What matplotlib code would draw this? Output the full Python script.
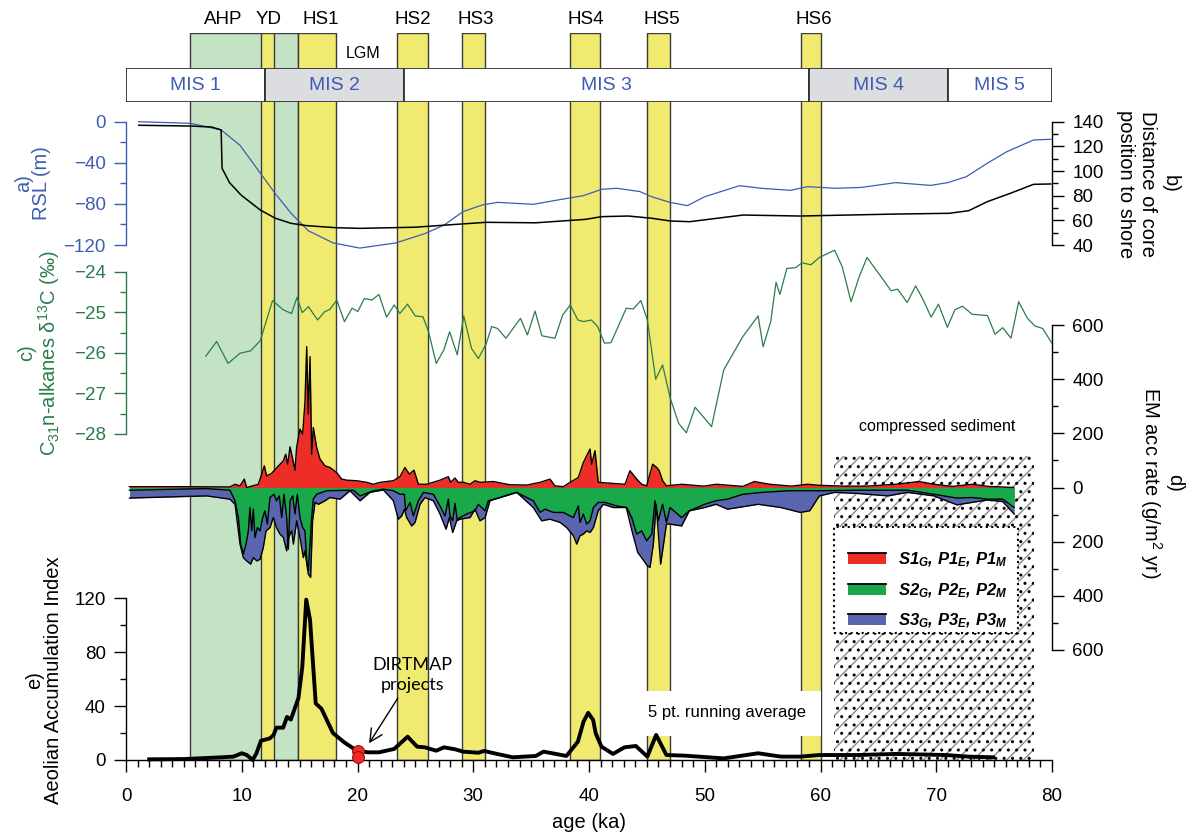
import numpy as np
import matplotlib
matplotlib.use('Agg')
import matplotlib.pyplot as plt
from matplotlib.ticker import MultipleLocator, FuncFormatter
from matplotlib.patches import Patch, Rectangle
from matplotlib.lines import Line2D
from matplotlib.legend_handler import HandlerBase

plt.rcParams['font.family'] = ['Liberation Sans', 'DejaVu Sans']
plt.rcParams['mathtext.fontset'] = 'custom'
plt.rcParams['mathtext.rm'] = 'Liberation Sans'
plt.rcParams['mathtext.it'] = 'Liberation Sans:italic:bold'
plt.rcParams['mathtext.bf'] = 'Liberation Sans:bold'
plt.rcParams['hatch.linewidth'] = 1.0

# ---- events and marine isotope stages (ka) ----
event_names = ['AHP', 'YD', 'HS1', 'HS2', 'HS3', 'HS4', 'HS5', 'HS6']
event_start = [5.55, 11.63, 14.83, 23.4, 29.02, 38.4, 45.04, 58.34]
event_end = [14.83, 12.82, 18.11, 26.05, 31.04, 40.98, 47.0, 60.03]
event_label_x = [8.4, 12.35, 16.8, 24.8, 30.2, 39.7, 46.3, 59.4]

mis_names = ['MIS 1', 'MIS 2', 'MIS 3', 'MIS 4', 'MIS 5']
mis_bounds = [0, 12.0, 24.0, 59.0, 71.0, 80.0]

# ---- a) relative sea level (m) ----
rsl_age = [1.1, 5.55, 8.22, 9.85, 11.6, 12.9, 14.25, 15.73, 17.9, 20.2, 23.3, 25.8, 27.5,
           29.1, 30.8, 32.1, 35.2, 37.4, 39.5, 41.1, 42.4, 44.4, 45.4, 47.0, 48.5, 50.0,
           53.0, 54.9, 57.4, 58.9, 61.2, 63.5, 66.5, 69.5, 71.0, 72.6, 74.4, 76.1, 78.4, 79.9]
rsl_m = [0, -1.6, -8, -23, -50, -70, -89, -106, -118, -123, -118, -109, -100.5,
         -87.6, -81, -78.5, -80.4, -76, -72, -65.8, -64.8, -68, -73, -78.5, -81.7, -73,
         -62.3, -64.8, -66.8, -63.2, -64.8, -64, -59.3, -62, -59.3, -53.5, -40.5, -29.2, -17.8, -17.1]

# ---- b) distance of core position to shore ----
dist_age = [1.1, 5.55, 7.4, 8.22, 8.3, 8.95, 9.94, 11.6, 12.9, 14.25, 15.6, 18.2, 20.2, 24.9,
            31.1, 35.4, 39.7, 41.1, 43.4, 45.4, 47.0, 48.7, 53.3, 58.2, 66.5, 71.1, 72.8,
            74.4, 76.4, 78.4, 79.9]
dist_km = [137.1, 136.5, 135.7, 133.3, 102.2, 90.5, 80.5, 68.4, 61.7, 57.6, 55.7, 54.0, 53.5, 54.4,
           58.4, 58.0, 60.8, 63.0, 63.5, 61.7, 59.5, 58.9, 64.3, 63.5, 65.1, 65.7, 67.8,
           75.1, 81.9, 89.2, 89.5]

# ---- c) C31 n-alkane d13C (permil) ----
d13c_age = [6.9, 7.83, 8.82, 9.85, 10.77, 11.6, 12.66, 13.58, 14.31, 14.77,
            15.23, 15.76, 16.55, 17.15, 17.61, 18.21, 18.87, 19.53, 20.03, 20.59,
            21.25, 21.85, 22.51, 23.17, 23.66, 24.32, 24.99, 25.65, 26.14, 26.80,
            27.46, 27.96, 28.62, 29.18, 29.85, 30.44, 31.1, 31.6, 32.1, 32.82,
            34.08, 34.68, 35.34, 35.93, 37.06, 37.72, 38.38, 39.04, 39.53, 40.2,
            40.74, 41.34, 41.9, 43.22, 43.82, 44.48, 45.04, 45.76, 46.36, 47.02,
            47.75, 48.41, 49.17, 50.59, 51.64, 53.29, 54.61, 55.04, 55.70, 56.16,
            56.49, 57.09, 57.85, 58.41, 59.17, 59.9, 61.22, 61.88, 62.64, 63.36,
            64.02, 65.17, 66.1, 66.66, 67.49, 68.22, 68.81, 69.56, 70.19, 70.96,
            71.61, 72.27, 73.1, 74.42, 75.08, 75.74, 76.46, 77.12, 77.88, 78.54,
            79.2, 79.96]
d13c_val = [-26.08, -25.72, -26.26, -26.01, -25.95, -25.70, -24.71, -24.94, -25.03, -24.63,
            -25.01, -24.86, -25.19, -24.99, -24.93, -24.70, -25.23, -24.90, -24.98, -24.66,
            -24.70, -24.56, -25.12, -24.82, -25.03, -24.80, -25.09, -25.11, -25.48, -26.26,
            -25.93, -25.48, -26.05, -25.09, -25.89, -26.14, -25.79, -25.35, -25.40, -25.64,
            -25.15, -25.56, -24.97, -25.58, -25.64, -25.07, -24.82, -25.19, -25.23, -25.19,
            -25.35, -25.76, -25.75, -24.90, -24.92, -24.71, -25.19, -26.65, -26.30, -27.12,
            -27.74, -27.97, -27.34, -27.82, -26.42, -25.60, -25.09, -25.85, -25.23, -24.26,
            -24.56, -23.92, -23.90, -23.78, -23.83, -23.65, -23.47, -23.88, -24.74, -24.11,
            -23.65, -24.10, -24.47, -24.43, -24.76, -24.35, -24.66, -25.12, -24.80, -25.37,
            -24.94, -24.85, -25.05, -25.08, -25.54, -25.38, -25.64, -24.74, -25.15, -25.34,
            -25.40, -25.75]

# ---- d) end-member accumulation rates (g/m2 yr) ----
s1_age = [0.3, 5.0, 8.98, 9.42, 9.85, 10.22, 10.42, 10.94, 11.43, 11.63,
          11.95, 12.15, 12.58, 13.0, 13.6, 13.8, 13.97, 14.17, 14.37, 14.6,
          14.74, 15.03, 15.26, 15.46, 15.61, 15.75, 15.9, 16.04, 16.18, 16.47,
          16.76, 17.19, 17.62, 18.2, 18.63, 19.07, 19.93, 20.8, 21.37, 21.94,
          23.1, 23.67, 24.1, 24.48, 24.88, 25.26, 25.98, 27.13, 27.85, 28.05,
          28.42, 28.71, 29.14, 29.72, 30.15, 30.58, 31.73, 33.18, 34.62, 35.77,
          36.63, 37.06, 37.78, 38.36, 39.08, 39.51, 39.8, 40.09, 40.23, 40.52,
          40.8, 42.1, 43.11, 43.54, 44.12, 44.55, 44.98, 45.5, 45.85, 46.07,
          46.36, 46.69, 48.0, 49.9, 51.0, 53.3, 54.28, 55.6, 57.5, 58.9,
          59.9, 62.0, 64.0, 66.5, 68.5, 69.8, 71.4, 73.1, 74.5, 76.7]
s1_rate = [3, 3, 2, 12, 6, 31, 0, 6, 12, 37,
           80, 43, 52, 72, 99, 123, 86, 150, 111, 64,
           148, 216, 197, 314, 520, 271, 483, 123, 222, 148,
           105, 80, 74, 55, 31, 27, 25, 19, 12, 19,
           25, 40, 74, 49, 64, 12, 12, 27, 40, 19,
           35, 19, 19, 12, 25, 19, 22, 10, 9, 19,
           31, 6, 3, 19, 37, 92, 117, 142, 86, 136,
           19, 15, 12, 62, 31, 12, 6, 86, 74, 62,
           25, 6, 12, 5, 12, 4, 22, 12, 5, 12,
           8, 5, 5, 12, 22, 12, 4, 12, 4, 0]

s2_age = [0.3, 6.97, 8.98, 9.42, 9.71, 9.91, 10.14, 10.37, 10.57, 10.71,
          10.86, 11.0, 11.14, 11.35, 11.58, 11.81, 12.0, 12.21, 12.44, 12.79,
          13.0, 13.25, 13.45, 13.65, 13.88, 14.03, 14.17, 14.4, 14.6, 14.8,
          15.03, 15.26, 15.46, 15.61, 15.75, 15.9, 16.04, 16.18, 16.47, 17.34,
          19.64, 20.22, 21.37, 22.23, 23.1, 23.67, 24.05, 24.16, 24.54, 24.82,
          25.26, 25.69, 26.55, 27.13, 27.56, 27.85, 27.99, 28.22, 28.42, 28.62,
          28.85, 29.43, 30.15, 30.44, 31.02, 31.3, 32.31, 33.75, 34.62, 35.19,
          35.77, 36.2, 36.92, 37.78, 38.65, 39.08, 39.22, 39.51, 39.8, 40.09,
          40.38, 40.8, 41.38, 42.39, 43.26, 43.69, 44.12, 44.55, 44.98, 45.42,
          45.7, 45.99, 46.36, 46.69, 47.0, 48.0, 48.67, 49.99, 50.97, 51.97,
          53.29, 54.95, 57.25, 59.07, 59.9, 63.2, 67.49, 69.8, 71.78, 73.1,
          74.42, 75.74, 76.73]
s2_rate = [10, 4, 10, 49, 111, 209, 246, 209, 160, 74,
           160, 80, 185, 148, 160, 111, 86, 135, 37, 25,
           49, 31, 111, 25, 111, 228, 49, 31, 98, 25,
           111, 148, 160, 271, 308, 209, 111, 43, 25, 12,
           10, 31, 12, 6, 12, 25, 25, 86, 55, 105,
           49, 18, 25, 68, 105, 43, 105, 123, 59, 120,
           111, 98, 86, 62, 86, 49, 37, 18, 37, 49,
           92, 80, 92, 92, 111, 68, 129, 98, 135, 123,
           74, 55, 55, 68, 74, 111, 172, 160, 197, 172,
           49, 123, 62, 129, 74, 111, 86, 62, 49, 43,
           25, 18, 12, 12, 12, 10, 10, 25, 39, 37,
           43, 43, 74]

# cumulative S2 + S3 (lower edge of the blue band)
s23_age = [0.3, 6.97, 8.98, 9.42, 9.85, 10.14, 10.42, 10.77, 11.0, 11.3,
           11.58, 11.86, 12.1, 12.44, 12.73, 13.0, 13.3, 13.6, 13.88, 14.03,
           14.32, 14.46, 14.75, 15.03, 15.32, 15.46, 15.75, 15.95, 16.12, 16.33,
           16.62, 17.19, 17.62, 18.49, 19.35, 20.22, 21.08, 22.23, 23.1, 23.53,
           23.82, 24.05, 24.25, 24.68, 24.97, 25.4, 25.83, 26.55, 27.13, 27.65,
           27.94, 28.22, 28.57, 28.85, 29.72, 30.15, 30.58, 31.02, 31.45, 32.31,
           33.75, 35.19, 35.91, 36.63, 37.5, 38.07, 38.65, 38.94, 39.22, 39.51,
           39.8, 40.09, 40.38, 40.8, 41.24, 42.1, 43.22, 43.71, 44.21, 44.54,
           45.04, 45.27, 45.56, 45.8, 46.19, 46.69, 47.0, 48.0, 48.67, 49.99,
           50.97, 51.97, 53.29, 54.61, 56.59, 58.25, 59.07, 59.9, 61.22, 63.2,
           65.83, 67.49, 69.8, 71.78, 73.1, 74.42, 75.74, 76.73]
s23_rate = [39, 31, 43, 62, 209, 259, 271, 283, 259, 271,
            265, 222, 160, 148, 111, 148, 172, 185, 234, 185,
            160, 209, 123, 185, 259, 234, 320, 332, 123, 55,
            62, 49, 37, 43, 12, 49, 18, 9, 49, 117,
            105, 80, 111, 142, 129, 62, 37, 49, 98, 154,
            111, 166, 123, 117, 111, 80, 123, 111, 49, 37,
            18, 74, 123, 117, 129, 148, 178, 209, 178, 172,
            160, 166, 148, 86, 62, 74, 74, 160, 240, 259,
            289, 295, 209, 62, 283, 135, 135, 142, 86, 74,
            62, 80, 71, 62, 74, 92, 86, 31, 18, 22,
            31, 18, 31, 64, 55, 46, 52, 98]

# ---- e) aeolian accumulation index (5 pt running average) ----
aai_age = [2.0, 4.98, 8.29, 9.28, 10.0, 10.44, 10.94, 11.27, 11.66, 12.42,
           12.75, 12.99, 13.58, 13.91, 14.24, 14.9, 15.23, 15.57, 15.9, 16.39,
           16.89, 17.88, 18.87, 19.86, 20.86, 21.85, 23.17, 24.33, 25.15, 25.81,
           26.8, 27.47, 28.46, 29.12, 30.44, 30.94, 32.1, 33.42, 35.4, 36.07,
           36.89, 38.05, 39.04, 39.53, 39.93, 40.36, 40.58, 41.08, 42.07, 43.06,
           44.05, 45.04, 45.8, 46.69, 48.34, 51.64, 54.61, 56.59, 58.25, 59.9,
           63.2, 66.5, 70.79, 72.77, 74.91]
aai_val = [0.5, 0.7, 2, 2.5, 5, 3.7, 0, 5, 14.3, 16,
           18.6, 24, 24, 32, 30, 46, 69, 119, 104, 42,
           38, 20, 13, 7.4, 5.7, 5.7, 8.2, 17.3, 9.9, 9.4,
           6.9, 9.4, 7.9, 6.2, 5.4, 6.7, 4.4, 2, 3, 6.2,
           4.9, 3, 13.6, 28.5, 35, 29.7, 19.8, 9.9, 4.5, 9.4,
           10.4, 2.5, 18.6, 3.7, 3.2, 1.2, 5, 2.5, 2.5, 3.7,
           3.7, 4.5, 3.7, 2.5, 2]

dirtmap_age = [20.03, 20.03]
dirtmap_val = [7.0, 2.5]

# ---- colours ----
YELLOW = '#f0eb70'
AHP_GREEN = '#c4e3c4'
MIS_GRAY = '#dcdde0'
BLUE = '#3d5db3'
DGREEN = '#2a7d4b'
RED = '#ee2d27'
FGREEN = '#19a84a'
FBLUE = '#5a65b0'

W, H = 1189, 834
X0, X1 = 126, 1052  # pixel extent of 0..80 ka


def rect(top, bottom):
    return [X0 / W, 1 - bottom / H, (X1 - X0) / W, (bottom - top) / H]


def style(ax, keep, color, major, minor):
    ax.set_xlim(0, 80)
    ax.patch.set_visible(False)
    for side in ['left', 'right', 'top', 'bottom']:
        ax.spines[side].set_visible(side in keep)
        ax.spines[side].set_color(color)
        ax.spines[side].set_linewidth(1.0)
    if 'right' in keep:
        ax.yaxis.tick_right()
    if 'bottom' not in keep:
        ax.set_xticks([])
    ax.yaxis.set_major_locator(MultipleLocator(major))
    ax.yaxis.set_minor_locator(MultipleLocator(minor))
    ax.tick_params(axis='y', which='both', direction='out', colors=color,
                   width=1.0, labelsize=13.5, pad=6)
    ax.tick_params(axis='y', which='major', length=8.5)
    ax.tick_params(axis='y', which='minor', length=4.5)


class TopLineHandler(HandlerBase):
    def create_artists(self, legend, orig, xd, yd, w, h, fs, trans):
        p = Rectangle((-xd, -yd), w, h, facecolor=orig.get_facecolor(),
                      edgecolor='none', transform=trans)
        ln = Line2D([-xd, -xd + w], [-yd + h, -yd + h], color='black', lw=1.3,
                    transform=trans)
        return [p, ln]


fig = plt.figure(figsize=(W / 100, H / 100), dpi=100)

# background: event bands, hatch, boxes
ax_bg = fig.add_axes(rect(33, 760))
ax_bg.set_xlim(0, 80)
ax_bg.set_ylim(0, 1)
ax_bg.axis('off')
for name, s, e, lx in zip(event_names, event_start, event_end, event_label_x):
    fc = AHP_GREEN if name == 'AHP' else YELLOW
    ax_bg.axvspan(s, e, facecolor=fc, edgecolor='#3a3a3a', lw=1.0,
                  zorder=1 if name == 'AHP' else 2)
    ax_bg.text(lx, 1.018, name, ha='center', va='center', fontsize=13.5,
               transform=ax_bg.get_xaxis_transform(), clip_on=False)
ax_bg.text(20.46, (760 - 53) / 727, 'LGM', ha='center', va='center', fontsize=11.5)

ax_bg.axvspan(61.2, 78.45, ymin=0, ymax=(760 - 456) / 727, facecolor='white',
              edgecolor='#8a8a8a', hatch='//', lw=0, zorder=3)
ax_bg.axvspan(61.2, 78.45, ymin=0, ymax=(760 - 456) / 727, facecolor='none',
              edgecolor='black', hatch='..', lw=0, zorder=3)
ax_bg.axvspan(61.2, 77.1, ymin=(760 - 633) / 727, ymax=(760 - 527) / 727,
              facecolor='white', edgecolor='black', ls=':', lw=1.5, zorder=4)
ax_bg.text(70.1, (760 - 427) / 727, 'compressed sediment', ha='center', va='center',
           fontsize=11.5, zorder=5)
ax_bg.text(45.1, (760 - 713) / 727, '5 pt. running average', ha='left', va='center',
           fontsize=12, zorder=5,
           bbox=dict(boxstyle='square,pad=0.9', facecolor='white', edgecolor='none'))

# MIS bar
ax_mis = fig.add_axes(rect(68, 102))
ax_mis.set_xlim(0, 80)
ax_mis.set_ylim(0, 1)
ax_mis.axis('off')
for i, name in enumerate(mis_names):
    s, e = mis_bounds[i], mis_bounds[i + 1]
    ax_mis.axvspan(s, e, facecolor=MIS_GRAY if i % 2 else 'white',
                   edgecolor='#333333', lw=1.3)
    ax_mis.text((s + e) / 2, 0.5, name, ha='center', va='center', color=BLUE,
                fontsize=14)

# a) RSL
ax_a = fig.add_axes(rect(121.7, 245))
style(ax_a, ['left'], BLUE, 40, 20)
ax_a.set_ylim(-120, 0)
ax_a.plot(rsl_age, rsl_m, color=BLUE, lw=0.9, clip_on=False)

# b) distance to shore
ax_b = fig.add_axes(rect(121.7, 245))
style(ax_b, ['right'], 'black', 20, 10)
ax_b.set_ylim(40, 140)
ax_b.plot(dist_age, dist_km, color='black', lw=1.1, clip_on=False)

# c) d13C
ax_c = fig.add_axes(rect(271.7, 434))
style(ax_c, ['left'], DGREEN, 1, 0.5)
ax_c.set_ylim(-28, -24)
ax_c.plot(d13c_age, d13c_val, color=DGREEN, lw=0.9, clip_on=False)

# d) EM accumulation rates
ax_d = fig.add_axes(rect(325, 650))
style(ax_d, ['right'], 'black', 200, 100)
ax_d.set_ylim(-600, 600)
ax_d.yaxis.set_major_formatter(FuncFormatter(lambda v, p: f'{abs(v):.0f}'))
s1 = np.array(s1_rate)
s2 = np.array(s2_rate)
s23 = np.array(s23_rate)
ax_d.fill_between(s1_age, 0, s1, color=RED, lw=0)
ax_d.fill_between(s23_age, 0, -s23, color=FBLUE, lw=0)
ax_d.fill_between(s2_age, 0, -s2, color=FGREEN, lw=0)
ax_d.plot(s1_age, s1, color='black', lw=1.0)
ax_d.plot(s23_age, -s23, color='black', lw=1.0)
ax_d.plot(s2_age, -s2, color='black', lw=1.0)

# e) Aeolian accumulation index
ax_e = fig.add_axes(rect(598.3, 760))
style(ax_e, ['left', 'bottom'], 'black', 40, 20)
ax_e.set_ylim(0, 120)
ax_e.xaxis.set_major_locator(MultipleLocator(10))
ax_e.xaxis.set_minor_locator(MultipleLocator(1))
ax_e.tick_params(axis='x', which='both', direction='out', width=1.0,
                 labelsize=13.5, pad=12)
ax_e.tick_params(axis='x', which='major', length=8.5)
ax_e.tick_params(axis='x', which='minor', length=5)
ax_e.plot(aai_age, aai_val, color='black', lw=2.8, clip_on=False,
          solid_joinstyle='round')
ax_e.plot(dirtmap_age, dirtmap_val, 'o', ms=8.5, mfc=RED, mec='#a01010', mew=0.8,
          clip_on=False, zorder=5)
ax_e.annotate('DIRTMAP\nprojects', xy=(21.0, 12.4), xytext=(24.75, 63),
              ha='center', va='center', fontsize=13, family='Lato', linespacing=1.3,
              arrowprops=dict(arrowstyle='->,head_length=0.7,head_width=0.35',
                              color='black', lw=1.0, shrinkA=2, shrinkB=0),
              annotation_clip=False)

# legend
handles = [Patch(facecolor=RED), Patch(facecolor=FGREEN), Patch(facecolor=FBLUE)]
labels = ['S1$_G$, P1$_E$, P1$_M$', 'S2$_G$, P2$_E$, P2$_M$', 'S3$_G$, P3$_E$, P3$_M$']
fig.legend(handles, labels, loc='upper left', bbox_to_anchor=(848 / W, 1 - 551 / H),
           frameon=False, borderpad=0, borderaxespad=0, handlelength=2.3,
           handleheight=0.65, handletextpad=0.7, labelspacing=0.72,
           prop=dict(weight='bold', style='italic', size=12),
           handler_map={Patch: TopLineHandler()})

# axis titles
fig.text(32.5 / W, 1 - 183 / H, 'a)\nRSL (m)', rotation=90, ha='center', va='center',
         color=BLUE, fontsize=14.5, linespacing=0.95, multialignment='center')
fig.text(39.5 / W, 1 - 353 / H, 'c)\nC$_{31}$n-alkanes δ$^{13}$C (‰)', rotation=90,
         ha='center', va='center', color=DGREEN, fontsize=14.5, linespacing=1.0,
         multialignment='center')
fig.text(44 / W, 1 - 680 / H, 'e)\nAeolian Accumulation Index', rotation=90,
         ha='center', va='center', fontsize=14.5, linespacing=1.0, multialignment='center')
fig.text(1148 / W, 1 - 184 / H, 'b)\nDistance of core\nposition to shore', rotation=270,
         ha='center', va='center', fontsize=14.5, linespacing=1.2, multialignment='center')
fig.text(1161 / W, 1 - 483 / H, 'd)\nEM acc rate (g/m$^2$ yr)', rotation=270,
         ha='center', va='center', fontsize=14.5, linespacing=1.1, multialignment='center')
fig.text(589 / W, 1 - 822 / H, 'age (ka)', ha='center', va='center', fontsize=14.5)

fig.savefig('out.png', dpi=100)
